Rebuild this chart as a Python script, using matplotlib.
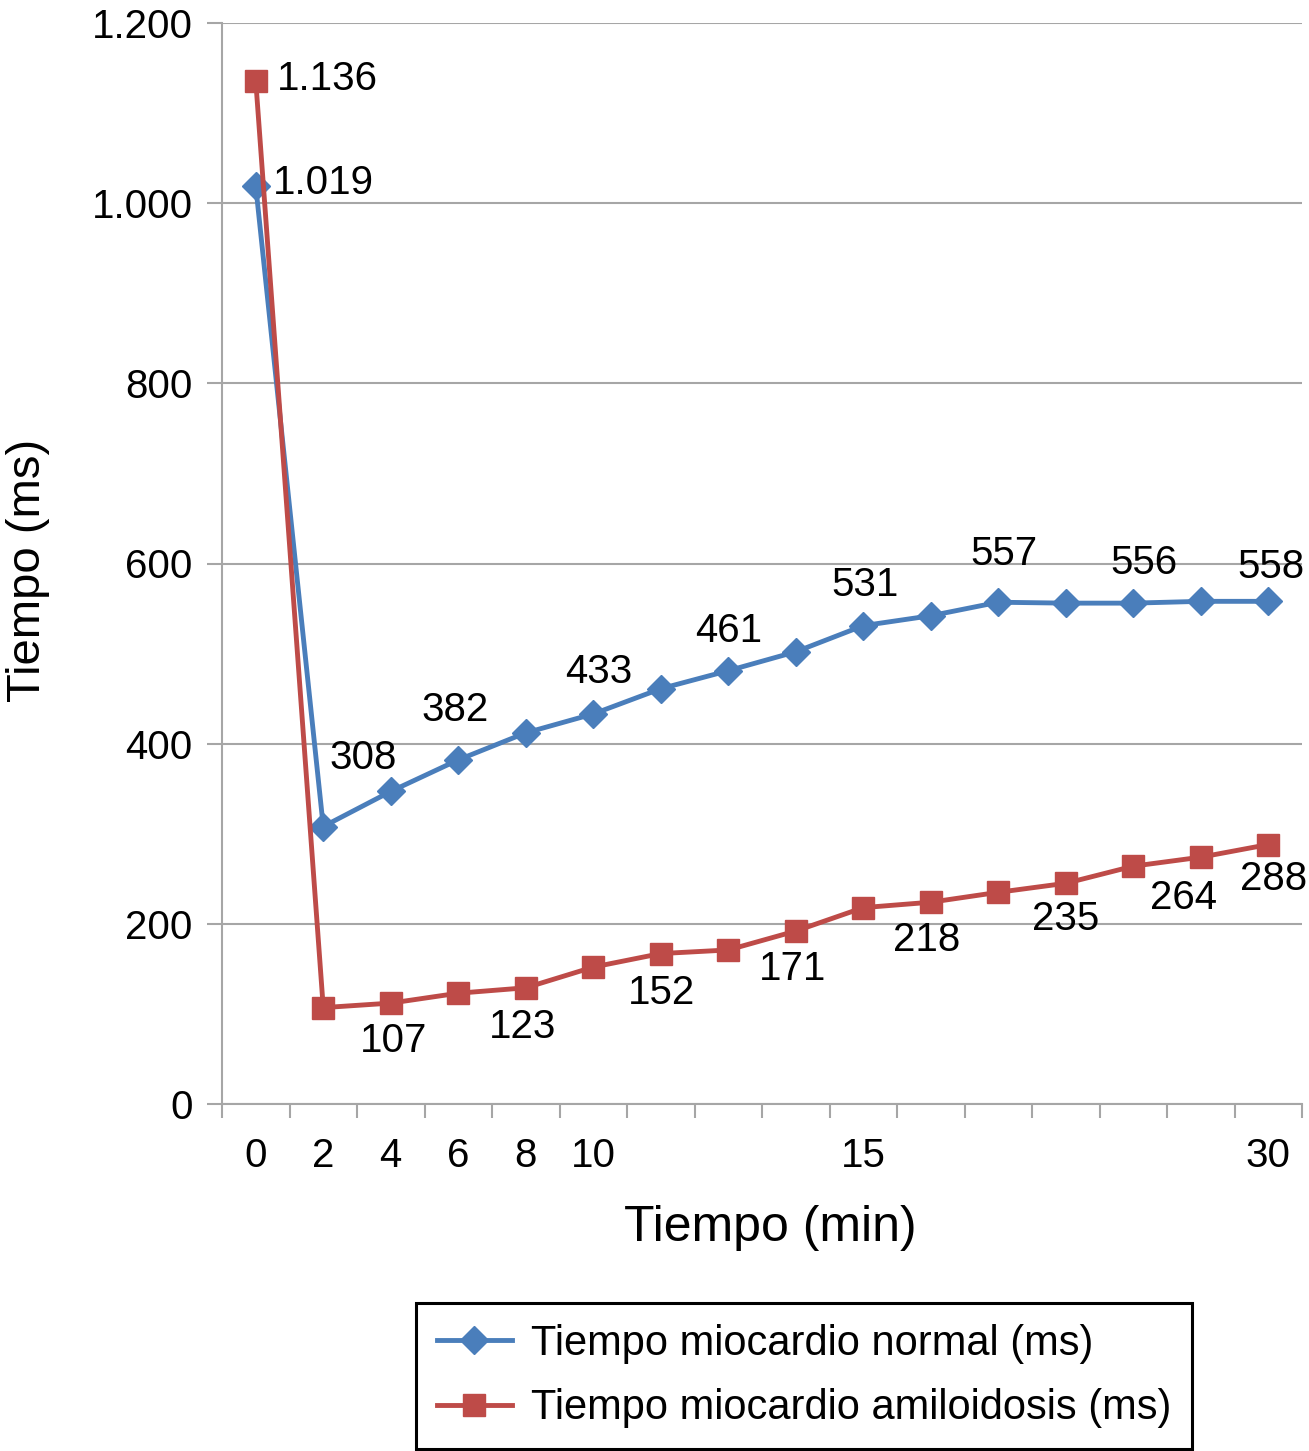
import numpy as np
import matplotlib
matplotlib.use("Agg")
import matplotlib.pyplot as plt
from matplotlib.ticker import FuncFormatter, FixedLocator

# categories on the x axis (Excel style, only some are labelled)
tick_labels = ["0", "2", "4", "6", "8", "10", "", "", "", "15", "", "", "", "", "", "30"]

normal_ms = [1019, 308, 347, 382, 412, 433, 461, 481, 502, 531, 542, 557, 556, 556, 558, 558]
amiloid_ms = [1136, 107, 112, 123, 129, 152, 167, 171, 192, 218, 224, 235, 245, 264, 274, 288]

# which points carry a data label
normal_lbl_idx = [0, 1, 3, 5, 6, 9, 11, 13, 15]
amiloid_lbl_idx = [0, 1, 3, 5, 7, 9, 11, 13, 15]

# label offsets in pixels (dx, dy), moved by hand in the original
normal_lbl_off = [(17, 3), (40, 69), (-3, 50), (5, 42), (68, 58), (2, 41), (6, 48), (11, 40), (3, 34)]
amiloid_lbl_off = [(21, 2), (70, -33), (64, -34), (68, -26), (64, -19), (63, -32), (67, -27), (50, -32), (5, -34)]

BLUE = "#4a7ebb"
RED = "#be4b48"
GRID = "#a6a6a6"
PX = 0.72  # points per pixel at dpi 100

plt.rcParams['font.family'] = ['Liberation Sans', 'DejaVu Sans']
narrow = ['Liberation Sans Narrow', 'Liberation Sans', 'DejaVu Sans']

def thousands(v, pos):
    return f"{int(v):,}".replace(",", ".")

fig = plt.figure(figsize=(13.09, 14.51), dpi=100)
ax = fig.add_axes([222 / 1309, 1 - 1104 / 1451, 1080 / 1309, 1081 / 1451])

x = np.arange(len(tick_labels))
ax.plot(x, normal_ms, color=BLUE, lw=3.5, marker="D", markersize=14,
        markeredgecolor=BLUE, label="Tiempo miocardio normal (ms)", zorder=3)
ax.plot(x, amiloid_ms, color=RED, lw=3.5, marker="s", markersize=16.5,
        markeredgecolor=RED, label="Tiempo miocardio amiloidosis (ms)", zorder=3)

def add_labels(vals, idxs, offs):
    for i, (dx, dy) in zip(idxs, offs):
        ha = "left" if i == 0 else "center"
        ax.annotate(thousands(vals[i], None), (x[i], vals[i]),
                    xytext=(dx * PX, dy * PX), textcoords="offset points",
                    ha=ha, va="center", fontsize=29, color="black", zorder=4)

add_labels(normal_ms, normal_lbl_idx, normal_lbl_off)
add_labels(amiloid_ms, amiloid_lbl_idx, amiloid_lbl_off)

ax.set_xlim(-0.5, len(tick_labels) - 0.5)
ax.set_ylim(0, 1200)
ax.set_yticks(np.arange(0, 1201, 200))
ax.yaxis.set_major_formatter(FuncFormatter(thousands))
ax.yaxis.grid(True, color=GRID, lw=1.5)
ax.set_axisbelow(True)

ax.set_xticks(x)
ax.set_xticklabels(tick_labels)
ax.xaxis.set_minor_locator(FixedLocator(np.arange(-0.5, len(tick_labels), 1.0)))
ax.tick_params(axis="x", which="major", length=0, pad=24, labelsize=29)
ax.tick_params(axis="x", which="minor", length=10, width=1.5, color=GRID, direction="out")
ax.tick_params(axis="y", length=11, width=1.5, color=GRID, direction="out", pad=10, labelsize=29)

for side in ["top", "right"]:
    ax.spines[side].set_visible(False)
for side in ["left", "bottom"]:
    ax.spines[side].set_color(GRID)
    ax.spines[side].set_linewidth(1.5)

fig.text(28 / 1309, 1 - 570 / 1451, "Tiempo (ms)", rotation=90, ha="center", va="center",
         fontsize=34)
fig.text(770 / 1309, 1 - 1228 / 1451, "Tiempo (min)", ha="center", va="center",
         fontsize=36, family=narrow)

leg = fig.legend(loc="center", bbox_to_anchor=(804 / 1309, 1 - 1376 / 1451),
                 fancybox=False, edgecolor="black", framealpha=1,
                 prop={"family": narrow, "size": 30}, handlelength=1.8,
                 borderpad=0.5, labelspacing=0.6, handletextpad=0.45)
leg.get_frame().set_linewidth(2.2)

fig.savefig("out.png", dpi=100)
